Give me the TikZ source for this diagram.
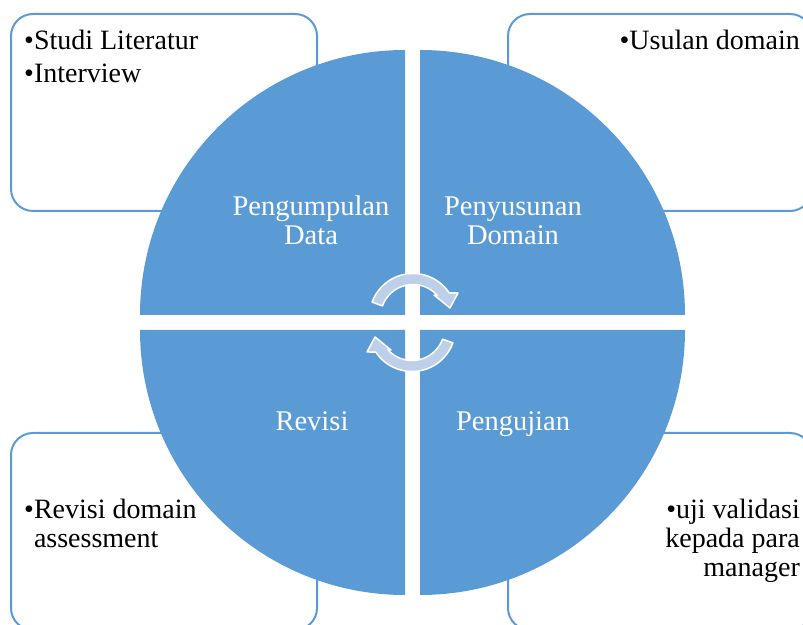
\documentclass[tikz,border=0pt]{standalone}
\usepackage{fontspec}
\setmainfont{Liberation Serif}
\definecolor{qblue}{RGB}{91,155,213}
\definecolor{afill}{RGB}{189,207,233}
\begin{document}
\begin{tikzpicture}[x=1pt,y=1pt,
  quad/.style={fill=qblue},
  infobox/.style={draw=qblue,line width=2pt,rounded corners=22pt},
  qlabel/.style={text=white,font=\fontsize{28.5}{29}\selectfont,inner sep=0pt},
  btext/.style={text=black,font=\fontsize{28}{29.5}\selectfont,inner sep=0pt},
  cyclearrow/.style={fill=afill,draw=white,line width=1.5pt,line join=round},
  cyc/.pic={\path[cyclearrow] (160:43.5) arc[start angle=160,end angle=33.5,radius=43.5]
      -- (45,24) -- (37,9) -- (21,22) -- (42:32.5)
      arc[start angle=42,end angle=160,radius=32.5] -- cycle;}]
\useasboundingbox (0,0) rectangle (803,624);
\clip (0,0) rectangle (803,624);
% info boxes
\draw[infobox] (11,413) rectangle (317,610);
\draw[infobox] (508,413) rectangle (812,610);
\draw[infobox] (11,-6) rectangle (317,191);
\draw[infobox] (508,-6) rectangle (812,191);
% quadrants
\fill[quad] (405,309) -- (140,309) arc[start angle=180,end angle=90,radius=265] -- cycle;
\fill[quad] (420,309) -- (420,574) arc[start angle=90,end angle=0,radius=265] -- cycle;
\fill[quad] (405,294) -- (405,29) arc[start angle=270,end angle=180,radius=265] -- cycle;
\fill[quad] (420,294) -- (685,294) arc[start angle=0,end angle=-90,radius=265] -- cycle;
% quadrant labels
\node[qlabel,anchor=base] (q1) at (311,408) {\begin{tabular}[t]{@{}c@{}}Pengumpulan\\Data\end{tabular}};
\node[qlabel,anchor=base] (q2) at (513,408) {\begin{tabular}[t]{@{}c@{}}Penyusunan\\Domain\end{tabular}};
\node[qlabel,anchor=base] (q3) at (312,193) {Revisi};
\node[qlabel,anchor=base] (q4) at (513,193) {Pengujian};
% cycle arrows
\pic at (413,307) {cyc};
\pic[rotate=180] at (412,296) {cyc};
% box texts
\node[btext,anchor=base west] (t1) at (24,574) {\begin{tabular}[t]{@{}l@{}}•Studi Literatur\\[3.5pt]•Interview\end{tabular}};
\node[btext,anchor=base east] (t2) at (800,574) {•Usulan domain};
\node[btext,anchor=base west] (t3) at (24,106) {\begin{tabular}[t]{@{}l@{}}•Revisi domain\\\phantom{•}assessment\end{tabular}};
\node[btext,anchor=base east] (t4) at (800,106) {\begin{tabular}[t]{@{}r@{}}•uji validasi\\kepada para\\manager\end{tabular}};
\end{tikzpicture}
\end{document}
